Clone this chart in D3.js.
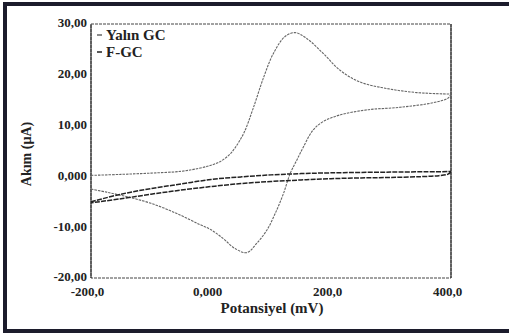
<!DOCTYPE html>
<html>
<head>
<meta charset="utf-8">
<script src="https://cdn.jsdelivr.net/npm/d3@7"></script>
<style>
  html, body { margin: 0; padding: 0; background: #fff; }
  svg { display: block; }
  text { font-family: "Liberation Serif", "DejaVu Serif", serif; font-weight: bold; fill: #222; }
</style>
</head>
<body>
<svg id="chart" width="509" height="336"></svg>
<script>
// Yalın GC: anodic sweep (-200 -> 400 mV) then cathodic sweep (400 -> -200 mV)
const yalinAnodicE = [-200, -150, -100, -50, -20, 0, 15, 30, 40, 55, 70, 88, 104, 123, 140, 159, 187, 215, 248, 293, 343, 400];
const yalinAnodicI = [0.2, 0.4, 0.65, 1.0, 1.6, 2.2, 2.9, 4.2, 5.6, 8.6, 13.3, 19.6, 24.2, 27.5, 28.3, 27.2, 24.2, 20.9, 18.6, 17.3, 16.5, 16.2];
const yalinCathodicE = [400, 395, 370, 315, 260, 215, 187, 170, 154, 143, 132, 121, 107, 93, 76, 60, 40, 20, 0, -20, -57, -100, -140, -174, -200];
const yalinCathodicI = [16.2, 15.4, 14.5, 13.6, 13.1, 12.1, 10.8, 9.1, 5.8, 3.2, 0.6, -3.3, -7.3, -10.6, -13.2, -15.0, -14.2, -12.2, -10.5, -9.4, -7.3, -5.3, -4.0, -3.1, -2.5];

// F-GC: nearly flat loop
const fgcUpperE = [-200, -150, -100, -50, 0, 50, 100, 150, 200, 300, 400];
const fgcUpperI = [-5.0, -3.5, -2.4, -1.5, -0.6, -0.1, 0.3, 0.55, 0.7, 0.85, 0.95];
const fgcLowerE = [400, 395, 380, 350, 300, 250, 200, 150, 100, 50, 0, -50, -100, -150, -200];
const fgcLowerI = [0.9, 0.45, 0.15, -0.05, -0.2, -0.3, -0.45, -0.7, -1.0, -1.4, -2.0, -2.7, -3.5, -4.4, -5.2];

const xTicks = [-200, 0, 200, 400];
const xTickLabels = ["-200,0", "0,000", "200,0", "400,0"];
const yTicks = [30, 20, 10, 0, -10, -20];
const yTickLabels = ["30,00", "20,00", "10,00", "0,000", "-10,00", "-20,00"];

const seriesNames = ["Yalın GC", "F-GC"];

const svg = d3.select("#chart");
const margin = { left: 91, right: 58, top: 24, bottom: 58 };
const W = 509, H = 336;

// outer frame of the scanned figure
svg.append("rect").attr("x", 3).attr("y", 2).attr("width", 510).attr("height", 4).attr("fill", "#1c1c2c");
svg.append("rect").attr("x", 3).attr("y", 2).attr("width", 4).attr("height", 331).attr("fill", "#1c1c2c");
svg.append("rect").attr("x", 3).attr("y", 329).attr("width", 510).attr("height", 4).attr("fill", "#1c1c2c");

const x = d3.scaleLinear().domain([-200, 400]).range([margin.left, W - margin.right]);
const y = d3.scaleLinear().domain([-20, 30]).range([H - margin.bottom, margin.top]);

svg.append("clipPath").attr("id", "plot-clip")
  .append("rect")
  .attr("x", x(-200)).attr("y", y(30))
  .attr("width", x(400) - x(-200)).attr("height", y(-20) - y(30));

// plot box
svg.append("rect")
  .attr("x", x(-200)).attr("y", y(30))
  .attr("width", x(400) - x(-200)).attr("height", y(-20) - y(30))
  .attr("fill", "none")
  .attr("stroke", "#444")
  .attr("stroke-width", 1)
  .attr("stroke-dasharray", "3,1");
svg.append("line")
  .attr("x1", x(-200)).attr("x2", x(-200))
  .attr("y1", y(30)).attr("y2", y(-20))
  .attr("stroke", "#333").attr("stroke-width", 1.2);
svg.append("line")
  .attr("x1", x(400)).attr("x2", x(400))
  .attr("y1", y(30)).attr("y2", y(-20))
  .attr("stroke", "#333").attr("stroke-width", 1.2);

// axes (labels only, no tick marks)
const xAxis = d3.axisBottom(x).tickValues(xTicks).tickSize(0)
  .tickFormat((d, i) => xTickLabels[i]);
svg.append("g")
  .attr("transform", `translate(0,${y(-20)})`)
  .call(xAxis)
  .call((g) => g.select(".domain").remove())
  .call((g) => g.selectAll("text")
    .attr("dy", 0).attr("y", 18)
    .attr("dx", -4)
    .style("font-size", "13px")
    .style("font-family", '"Liberation Serif", serif')
    .style("font-weight", "bold")
    .attr("fill", "#222"));

const yAxis = d3.axisLeft(y).tickValues(yTicks).tickSize(0)
  .tickFormat((d, i) => yTickLabels[i]);
svg.append("g")
  .attr("transform", `translate(${x(-200)},0)`)
  .call(yAxis)
  .call((g) => g.select(".domain").remove())
  .call((g) => g.selectAll("text")
    .attr("x", -4)
    .attr("dy", "0.22em")
    .style("font-size", "13px")
    .style("font-family", '"Liberation Serif", serif')
    .style("font-weight", "bold")
    .attr("fill", "#222"));

// axis titles
svg.append("text")
  .attr("transform", `translate(31,${(y(30) + y(-20)) / 2 + 3}) rotate(-90)`)
  .attr("text-anchor", "middle")
  .attr("font-size", "14px")
  .text("Akım (µA)");
svg.append("text")
  .attr("x", 272).attr("y", 313)
  .attr("text-anchor", "middle")
  .attr("font-size", "15px")
  .text("Potansiyel (mV)");

// curves
const line = d3.line()
  .x((d) => x(d[0]))
  .y((d) => y(d[1]))
  .curve(d3.curveCatmullRom.alpha(0.5));

const zip = (a, b) => a.map((v, i) => [v, b[i]]);

const styles = [
  { stroke: "#666", width: 1.1, dash: "2.5,1" },
  { stroke: "#222", width: 1.5, dash: "5,1.2" },
];

const curves = svg.append("g").attr("clip-path", "url(#plot-clip)");
const branches = [
  [zip(yalinAnodicE, yalinAnodicI), 0],
  [zip(yalinCathodicE, yalinCathodicI), 0],
  [zip(fgcUpperE, fgcUpperI), 1],
  [zip(fgcLowerE, fgcLowerI), 1],
];
curves.selectAll("path")
  .data(branches)
  .join("path")
  .attr("d", (d) => line(d[0]))
  .attr("fill", "none")
  .attr("stroke", (d) => styles[d[1]].stroke)
  .attr("stroke-width", (d) => styles[d[1]].width)
  .attr("stroke-dasharray", (d) => styles[d[1]].dash);

// legend
const legend = svg.append("g").attr("transform", `translate(${x(-200) + 6},${y(30) + 11})`);
seriesNames.forEach((name, i) => {
  const row = legend.append("g").attr("transform", `translate(0,${i * 17})`);
  row.append("line")
    .attr("x1", 0).attr("x2", 5)
    .attr("y1", 0).attr("y2", 0)
    .attr("stroke", styles[i].stroke)
    .attr("stroke-width", 1.5);
  row.append("text")
    .attr("x", 9).attr("y", 5)
    .attr("font-size", "15px")
    .text(name);
});
</script>
</body>
</html>
